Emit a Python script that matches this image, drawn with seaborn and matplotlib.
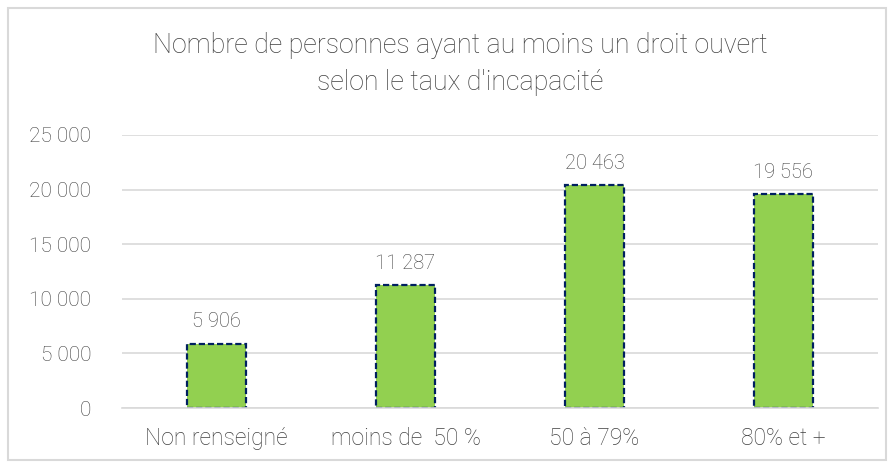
import matplotlib
matplotlib.use('Agg')
import matplotlib.pyplot as plt
import seaborn as sns
import pandas as pd
from matplotlib.patches import Rectangle

categories = ['Non renseigné', 'moins de  50 %', '50 à 79%', '80% et +']
values = [5906, 11287, 20463, 19556]
yticks = [0, 5000, 10000, 15000, 20000, 25000]
title = "Nombre de personnes ayant au moins un droit ouvert\nselon le taux d'incapacité"


def fmt(v):
    return f'{v:,}'.replace(',', ' ')


sns.set_theme(style='white')
plt.rcParams['font.family'] = ['Roboto', 'DejaVu Sans']
plt.rcParams['font.weight'] = 'light'

df = pd.DataFrame({'cat': categories, 'val': values})

fig = plt.figure(figsize=(8.95, 4.68), dpi=100)
ax = fig.add_axes([122 / 895, 1 - 408 / 468, 756 / 895, 273 / 468])

# Bars with dark dashed outline
sns.barplot(data=df, x='cat', y='val', color='#92D050', saturation=1,
            width=0.317, edgecolor='#002060', linewidth=1.6,
            linestyle=(0, (2.8, 1.3)), ax=ax, zorder=3)

ax.set_ylim(0, 25000)
ax.set_xlim(-0.5, 3.5)
ax.set_yticks(yticks)
ax.set_yticklabels([fmt(t) for t in yticks])
ax.yaxis.grid(True, color='#D9D9D9', linewidth=1.2, zorder=0)
ax.set_axisbelow(True)
for s in ['top', 'right', 'left']:
    ax.spines[s].set_visible(False)
ax.spines['bottom'].set_color('#D9D9D9')
ax.spines['bottom'].set_linewidth(1.2)
ax.spines['bottom'].set_zorder(4)
ax.tick_params(axis='y', length=0, pad=22, labelsize=15, labelcolor='#404040')
ax.tick_params(axis='x', length=0, pad=14, labelsize=16.5, labelcolor='#404040')
ax.set_xlabel('')
ax.set_ylabel('')

# Value labels
for i, v in enumerate(values):
    ax.text(i, v + 1100, fmt(v), ha='center', va='bottom', fontsize=14.5, color='#404040')

fig.text(0.514, 1 - 64 / 468, title, ha='center', va='center', fontsize=19.3,
         color='#404040', linespacing=1.45)

# Light frame around the chart
fig.patches.append(Rectangle((8 / 895, 8 / 468), 878 / 895, 452 / 468,
                             transform=fig.transFigure, fill=False,
                             edgecolor='#D9D9D9', linewidth=1.5))

plt.savefig('out.png', dpi=100)
plt.close()
